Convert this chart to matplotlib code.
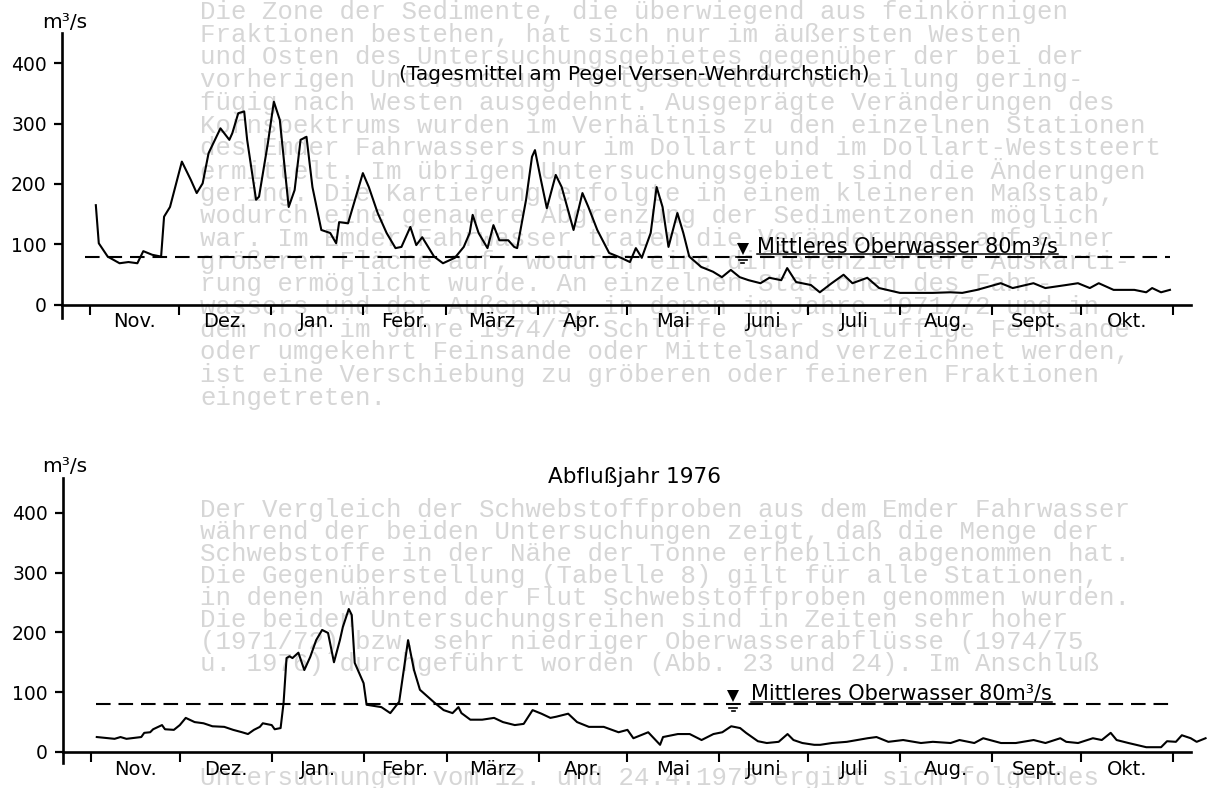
"""
Daily mean discharge at the Versen-Wehrdurchstich gauge, two runoff years.
"""
import matplotlib
matplotlib.use("Agg")
import matplotlib.pyplot as plt

# Runoff year 1975: day after 1 November and daily mean discharge (m3/s)
days_1975 = [2, 3, 6, 10, 13, 16, 18, 21, 24, 25, 27, 31, 34, 36, 38, 40, 44, 47, 48, 50,
             52, 53, 56, 57, 60, 62, 64, 67, 69, 71, 73, 75, 78, 81, 83, 84, 87, 92, 94, 97,
             100, 103, 105, 108, 110, 112, 116, 119, 123, 126, 128, 129, 131, 134, 136, 138,
             141, 143, 144, 147, 149, 150, 152, 154, 157, 159, 163, 166, 168, 171, 175, 179,
             182, 184, 186, 189, 191, 193, 195, 198, 200, 202, 206, 210, 213, 216, 219, 222,
             226, 229, 233, 235, 238, 243, 246, 250, 254, 257, 262, 266, 273, 280, 284, 290,
             294, 299, 307, 311, 318, 322, 329, 333, 337, 340, 345, 352, 356, 358, 361, 364]
flow_1975 = [165, 102, 80, 69, 71, 69, 89, 83, 80, 146, 162, 237, 207, 185, 201, 251, 292, 273, 284, 317,
             320, 273, 174, 179, 268, 336, 306, 162, 190, 273, 278, 195, 124, 119, 102, 137, 135, 218, 195, 152,
             119, 94, 96, 129, 99, 112, 80, 69, 78, 96, 119, 149, 119, 94, 132, 107,
             107, 96, 94, 174, 245, 256, 207, 160, 215, 195, 124, 185, 162, 124, 86, 78,
             71, 94, 78, 119, 195, 162, 96, 152, 119, 80, 63, 55, 46, 58, 46, 41,
             36, 45, 41, 61, 38, 33, 21, 36, 50, 36, 45, 28, 20, 20, 20, 21,
             20, 25, 36, 28, 36, 28, 33, 36, 28, 36, 25, 25, 21, 28, 21, 25]

# Runoff year 1976
days_1976 = [2, 8, 10, 12, 17, 18, 20, 21, 24, 25, 28, 30, 32, 35, 38, 41, 45, 48, 51, 53,
             55, 57, 58, 61, 62, 64, 65, 66, 67, 68, 70, 72, 74, 76, 78, 80, 82, 84, 85, 87,
             88, 89, 92, 93, 98, 101, 104, 107, 109, 111, 116, 119, 122, 124, 125, 128, 132, 136,
             139, 143, 146, 149, 152, 155, 157, 161, 164, 168, 173, 178, 181, 183, 188, 192,
             193, 198, 202, 206, 210, 213, 216, 219, 221, 225, 228, 232, 235, 237, 240, 244,
             246, 250, 255, 262, 265, 269, 274, 280, 284, 290, 293, 298, 301, 307, 312, 318,
             322, 327, 329, 333, 338, 341, 344, 346, 350, 356, 361, 363, 366, 368, 371, 373, 376]
flow_1976 = [25, 22, 25, 22, 25, 32, 33, 38, 45, 38, 37, 45, 57, 50, 48, 43, 42, 37, 33, 30,
             37, 42, 48, 45, 38, 40, 82, 157, 160, 157, 166, 137, 159, 187, 204, 199, 150, 187, 209, 239,
             229, 149, 115, 79, 75, 65, 84, 187, 137, 104, 82, 70, 65, 75, 65, 54, 54, 57,
             50, 45, 47, 70, 64, 57, 59, 64, 50, 42, 42, 33, 37, 23, 33, 12,
             25, 30, 30, 20, 30, 33, 43, 40, 32, 18, 15, 17, 30, 20, 15, 12,
             12, 15, 17, 23, 25, 17, 20, 15, 17, 15, 20, 15, 23, 15, 15, 20,
             15, 23, 17, 15, 23, 20, 32, 20, 15, 8, 8, 18, 17, 28, 23, 17, 23]

month_starts = [0, 30, 61, 92, 120, 151, 181, 212, 242, 273, 304, 334, 365]
month_names = ['Nov.', 'Dez.', 'Jan.', 'Febr.', 'März', 'Apr.', 'Mai', 'Juni',
               'Juli', 'Aug.', 'Sept.', 'Okt.']
y_ticks = [0, 100, 200, 300, 400]
mean_flow = 80

# typed page text showing through the sheet
page_lines_top = [
    "Die Zone der Sedimente, die überwiegend aus feinkörnigen",
    "Fraktionen bestehen, hat sich nur im äußersten Westen",
    "und Osten des Untersuchungsgebietes gegenüber der bei der",
    "vorherigen Untersuchung festgestellten Verteilung gering-",
    "fügig nach Westen ausgedehnt. Ausgeprägte Veränderungen des",
    "Kornspektrums wurden im Verhältnis zu den einzelnen Stationen",
    "des Emder Fahrwassers nur im Dollart und im Dollart-Weststeert",
    "ermittelt. Im übrigen Untersuchungsgebiet sind die Änderungen",
    "gering. Die Kartierung erfolgte in einem kleineren Maßstab,",
    "wodurch eine genauere Abgrenzung der Sedimentzonen möglich",
    "war. Im Emder Fahrwasser traten die Veränderungen auf einer",
    "größeren Fläche auf, wodurch eine differenziertere Auskarti-",
    "rung ermöglicht wurde. An einzelnen Stationen des Fahr-",
    "wassers und der Außenems, in denen im Jahre 1971/72 und in",
    "dem noch im Jahre 1974/75 Schluffe oder schluffige Feinsande",
    "oder umgekehrt Feinsande oder Mittelsand verzeichnet werden,",
    "ist eine Verschiebung zu gröberen oder feineren Fraktionen",
    "eingetreten.",
]
page_rows_top = [12 + 22.7 * i for i in range(len(page_lines_top))]
page_lines_bottom = [
    "Der Vergleich der Schwebstoffproben aus dem Emder Fahrwasser",
    "während der beiden Untersuchungen zeigt, daß die Menge der",
    "Schwebstoffe in der Nähe der Tonne erheblich abgenommen hat.",
    "Die Gegenüberstellung (Tabelle 8) gilt für alle Stationen,",
    "in denen während der Flut Schwebstoffproben genommen wurden.",
    "Die beiden Untersuchungsreihen sind in Zeiten sehr hoher",
    "(1971/72) bzw. sehr niedriger Oberwasserabflüsse (1974/75",
    "u. 1976) durchgeführt worden (Abb. 23 und 24). Im Anschluß",
    "Untersuchungen vom 12. und 24.4.1975 ergibt sich folgendes",
]
page_rows_bottom = [510, 532, 554, 576, 598, 620, 642, 664, 778]

W, H = 1210, 788
fig = plt.figure(figsize=(W / 100, H / 100), dpi=100)
fig.patch.set_facecolor('white')

for txt, row in zip(page_lines_top + page_lines_bottom, page_rows_top + page_rows_bottom):
    fig.text(200 / W, 1 - row / H, txt, family='Liberation Mono', fontsize=18.5,
             color='#d6d6d6', va='center', ha='left', zorder=-5)


def px_axes(x0, y0, x1, y1):
    """Axes placed by pixel box (top-left origin)."""
    return fig.add_axes([x0 / W, 1 - y1 / H, (x1 - x0) / W, (y1 - y0) / H])


def draw_panel(ax, days, flow, ylim, dash_span, label_y, gauge_day, gauge_tri, text_day, text_y):
    ax.set_facecolor('none')
    ax.set_xlim(-9.4, 377.5)
    ax.set_ylim(*ylim)
    for side in ['top', 'right']:
        ax.spines[side].set_visible(False)
    ax.spines['bottom'].set_position(('data', 0))
    ax.spines['bottom'].set_bounds(-9.4, 371)
    for side in ['left', 'bottom']:
        ax.spines[side].set_linewidth(1.9)

    ax.set_xticks(month_starts)
    ax.set_xticklabels([])
    ax.tick_params(axis='x', direction='out', length=7, width=1.5)
    ax.set_yticks(y_ticks)
    ax.set_yticklabels([str(v) for v in y_ticks])
    ax.tick_params(axis='y', direction='out', length=6, width=1.6, labelsize=13.5, pad=5)

    for i, name in enumerate(month_names):
        mid = (month_starts[i] + month_starts[i + 1]) / 2
        ax.text(mid, label_y, name, ha='center', va='center', fontsize=14)

    # mean discharge line
    ax.plot(dash_span, [mean_flow, mean_flow], color='black', lw=1.5,
            linestyle=(0, (7, 3.8)))

    # hydrograph
    ax.plot(days, flow, color='black', lw=1.5, solid_joinstyle='round')

    # water level sign
    ax.plot([gauge_day], [gauge_tri], marker='v', ms=8, color='black', mew=0)
    for half, val in [(2.2, mean_flow), (1.4, mean_flow - 6), (0.6, mean_flow - 11)]:
        ax.plot([gauge_day - half, gauge_day + half], [val, val], color='black', lw=1.2)

    t = ax.text(text_day, text_y, 'Mittleres Oberwasser 80m³/s', fontsize=15,
                ha='left', va='baseline')
    return t


ax_top = px_axes(62, 33, W, 318)
lab_top = draw_panel(ax_top, days_1975, flow_1975, (-21.5, 449.6), [-1.7, 364], -28,
                     220, 93, 224.8, 87)

ax_bot = px_axes(63, 478, W, 763)
lab_bot = draw_panel(ax_bot, days_1976, flow_1976, (-18.4, 458), [1.7, 364.7], -30,
                     216.7, 94, 222.8, 88)

fig.text(65 / W, 1 - 22 / H, 'm³/s', fontsize=14.5, ha='center', va='center')
fig.text(65 / W, 1 - 466 / H, 'm³/s', fontsize=14.5, ha='center', va='center')
fig.text(634 / W, 1 - 75 / H, '(Tagesmittel am Pegel Versen-Wehrdurchstich)',
         fontsize=14.5, ha='center', va='center')
fig.text(634 / W, 1 - 477 / H, 'Abflußjahr 1976', fontsize=15.5, ha='center', va='center')

# underline the mean discharge labels
fig.canvas.draw()
renderer = fig.canvas.get_renderer()
for ax, lab in [(ax_top, lab_top), (ax_bot, lab_bot)]:
    bb = lab.get_window_extent(renderer)
    inv = ax.transData.inverted()
    (x0, _), (x1, _) = inv.transform([(bb.x0, bb.y0), (bb.x1, bb.y0)])
    ax.plot([x0, x1], [84, 84], color='black', lw=1.1)

fig.savefig('out.png', dpi=100, facecolor=fig.get_facecolor())
